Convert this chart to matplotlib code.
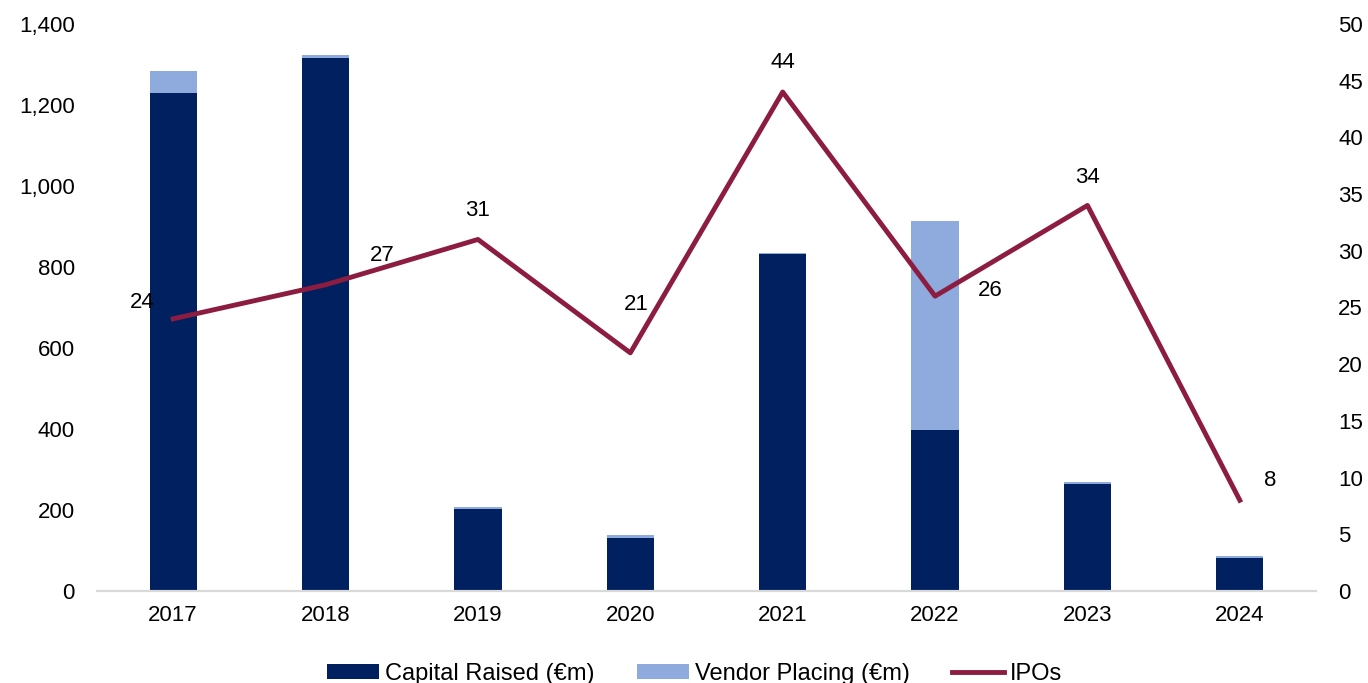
import matplotlib
matplotlib.use('Agg')
import matplotlib.pyplot as plt
import numpy as np

plt.rcParams['font.family'] = ['Liberation Sans', 'DejaVu Sans']

years = ['2017', '2018', '2019', '2020', '2021', '2022', '2023', '2024']
capital_raised = [1229, 1315, 202, 131, 832, 397, 263, 81]
vendor_placing = [55, 8, 6, 7, 3, 516, 6, 5]
ipos = [24, 27, 31, 21, 44, 26, 34, 8]

# label offsets in points (dx, dy)
label_offsets = [(-22, 12), (41, 21), (0, 21), (4, 35), (0, 21), (40, 4), (0, 20), (22, 14)]

navy = '#002060'
light = '#8FAADC'
maroon = '#8C1D40'

fig = plt.figure(figsize=(13.68, 6.83), dpi=100)
ax = fig.add_axes([0.0709, 0.1347, 0.8911, 0.8302])
x = np.arange(len(years))

ax.bar(x, capital_raised, width=0.31, color=navy, label='Capital Raised (€m)')
ax.bar(x, vendor_placing, width=0.31, bottom=capital_raised, color=light,
       label='Vendor Placing (€m)')
ax.set_ylim(0, 1400)
ax.set_yticks(range(0, 1401, 200))
ax.yaxis.set_major_formatter(matplotlib.ticker.FuncFormatter(lambda v, p: f'{int(v):,}'))
ax.set_xlim(-0.5, len(years) - 0.5)
ax.set_xticks(x)
ax.set_xticklabels(years)

ax2 = ax.twinx()
ax2.plot(x, ipos, color=maroon, linewidth=3.5, label='IPOs')
ax2.set_ylim(0, 50)
ax2.set_yticks(range(0, 51, 5))
for i, v in enumerate(ipos):
    ax2.annotate(str(v), (x[i], v), xytext=label_offsets[i], textcoords='offset points',
                 ha='center', va='center', fontsize=16)

for a in (ax, ax2):
    for s in ('top', 'left', 'right'):
        a.spines[s].set_visible(False)
    a.spines['bottom'].set_color('#D9D9D9')
    a.spines['bottom'].set_linewidth(1.5)
    a.tick_params(axis='both', length=0, labelsize=16, pad=10)
ax.tick_params(axis='y', pad=16)
ax2.tick_params(axis='y', pad=16)

h1, l1 = ax.get_legend_handles_labels()
h2, l2 = ax2.get_legend_handles_labels()
fig.legend(h1 + h2, l1 + l2, loc='center', bbox_to_anchor=(0.508, 0.013), ncol=3,
           frameon=False, fontsize=17, handlelength=2.2, handleheight=0.6,
           columnspacing=1.8, handletextpad=0.25)

fig.savefig('out.png', dpi=100)
